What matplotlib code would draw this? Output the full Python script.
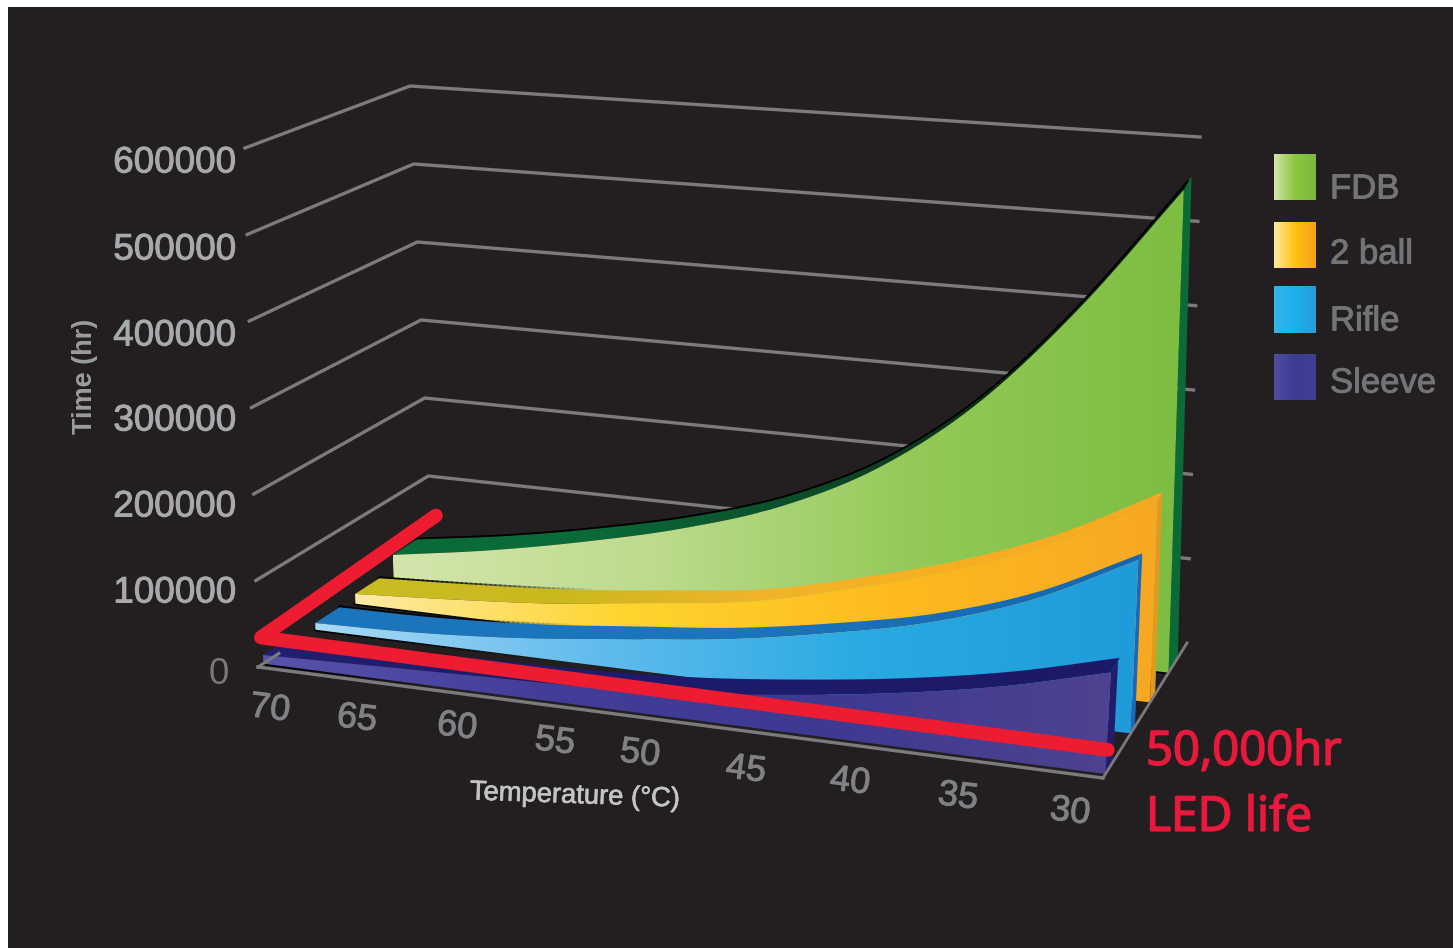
import numpy as np
import matplotlib
matplotlib.use("Agg")
import matplotlib.pyplot as plt
import matplotlib.patheffects as pe
from matplotlib.collections import LineCollection
from matplotlib.colors import LinearSegmentedColormap
from matplotlib.patches import Polygon, Rectangle

# ---- chart values -------------------------------------------------------
temperatures = [70, 65, 60, 55, 50, 45, 40, 35, 30]
fdb_hours = [30000, 50000, 75000, 105000, 145000, 205000, 295000, 420000, 570000]
two_ball_hours = [12000, 20000, 30000, 45000, 62000, 92000, 128000, 175000, 238000]
rifle_hours = [8000, 12000, 21000, 35000, 50000, 72000, 100000, 142000, 203000]
sleeve_hours = [10000, 14000, 18000, 22000, 30000, 44000, 62000, 86000, 118000]
time_ticks = [0, 100000, 200000, 300000, 400000, 500000, 600000]
led_life_hours = 50000
series_names = ["FDB", "2 ball", "Rifle", "Sleeve"]

# ---- layout of the pseudo-3D box (pixel coordinates) --------------------
T_HOT, T_COOL, V_MAX = 70.0, 30.0, 600000.0
BOX = {
    (0, 0, 0): (258, 667), (0, 1, 0): (245, 148),
    (0, 0, 1): (432, 554), (0, 1, 1): (410, 86),
    (1, 0, 0): (1103, 778), (1, 1, 0): (1130, 262),
    (1, 0, 1): (1187, 643), (1, 1, 1): (1200, 137),
}
BAND_HOT = 0.14
BG, GRID = "#231f20", "#7b7b7c"
TICK_GREY, LEGEND_GREY, LED_RED = "#a7a9ac", "#737477", "#ed1c30"


def project(t, v, d):
    """Map temperature, hours and depth (0 front, 1 back) onto the canvas."""
    t, v, d = np.broadcast_arrays(np.asarray(t, float), np.asarray(v, float), np.asarray(d, float))
    u = (T_HOT - t) / (T_HOT - T_COOL)
    w = v / V_MAX
    pts = np.zeros(t.shape + (2,))
    for (a, b, c), xy in BOX.items():
        weight = (u if a else 1 - u) * (w if b else 1 - w) * (d if c else 1 - d)
        pts += weight[..., None] * np.array(xy, float)
    return pts


def smooth(values, n=160):
    """Cubic Hermite sampling along the temperature axis, for a smooth outline."""
    x = np.arange(len(values), dtype=float)
    y = np.array(values, float)
    m = np.gradient(y)
    xs = np.linspace(0, x[-1], n)
    i = np.minimum(xs.astype(int), len(x) - 2)
    s = xs - x[i]
    ys = ((2 * s**3 - 3 * s**2 + 1) * y[i] + (s**3 - 2 * s**2 + s) * m[i]
          + (-2 * s**3 + 3 * s**2) * y[i + 1] + (s**3 - s**2) * m[i + 1])
    ts = T_HOT + (T_COOL - T_HOT) * xs / x[-1]
    return ts, ys


fig = plt.figure(figsize=(14.53, 9.48), dpi=100, facecolor="white")
ax = fig.add_axes([0, 0, 1, 1])
ax.set_xlim(0, 1453)
ax.set_ylim(948, 0)
ax.axis("off")
ax.add_patch(Rectangle((8, 7), 1453, 948, fc=BG, ec="none", zorder=0))


def gradient_fill(poly, colours, z):
    cmap = LinearSegmentedColormap.from_list("g", colours)
    x0, x1 = poly[:, 0].min(), poly[:, 0].max()
    y0, y1 = poly[:, 1].min(), poly[:, 1].max()
    im = ax.imshow(np.linspace(0, 1, 256)[None, :], cmap=cmap, aspect="auto",
                   extent=(x0, x1, y1, y0), zorder=z, interpolation="bilinear")
    im.set_clip_path(Polygon(poly, closed=True, transform=ax.transData))


def fading_line(pts, reach, lw, z):
    """Black shadow along a path, fading out over the first `reach` of its length."""
    segs = np.stack([pts[:-1], pts[1:]], axis=1)
    fade = np.linspace(0, 1, len(segs))
    alpha = np.clip(1 - fade / reach, 0, 1) if reach < 1 else np.ones(len(segs))
    rgba = np.zeros((len(segs), 4))
    rgba[:, 3] = alpha
    ax.add_collection(LineCollection(segs, colors=rgba, linewidths=lw, zorder=z, capstyle="round"))


def ribbon(values, depth, face, top, side, z, reach, band_cool, side_depth):
    ts, vs = smooth(values)
    u = (T_HOT - ts) / (T_HOT - T_COOL)
    back = depth + BAND_HOT + (band_cool - BAND_HOT) * u
    base = project(ts, 0, depth)
    crest = project(ts, vs, depth)
    crest_back = project(ts, vs, back)
    fading_line(crest_back, reach, 2.6, z)
    gradient_fill(np.vstack([crest, crest_back[::-1]]), top, z + 0.1)
    ends = np.array([0.0, vs[-1]])
    side_poly = np.vstack([project(T_COOL, ends, depth),
                           project(T_COOL, ends[::-1], depth + side_depth)])
    ax.add_patch(Polygon(side_poly, closed=True, fc=side, ec="none", zorder=z + 0.1))
    fading_line(base, reach, 2.4, z + 0.15)
    gradient_fill(np.vstack([crest, base[::-1]]), face, z + 0.2)


# ---- grid: front-left tick, back-left corner, back-right tick -----------
for tick in time_ticks[1:]:
    path = np.vstack([project(T_HOT, tick, 0), project(T_HOT, tick, 1), project(T_COOL, tick, 1)])
    ax.plot(*path.T, color=GRID, lw=2.4, zorder=1, solid_joinstyle="round")

# ---- ribbons from back to front -----------------------------------------
ribbon(fdb_hours, 0.78, ["#d3e5ad", "#bcdb8c", "#93c957", "#7cbd42"],
       ["#0a6a38", "#0a6a38", "#0a4f2a", "#0d2c18", "#0f1c12"], "#0b6b37", 2, 1.0, 0.06, 0.11)
ribbon(two_ball_hours, 0.56, ["#fdeaa3", "#ffd52e", "#fdbb1e", "#f7a823"],
       ["#c9bc22", "#cbb81f", "#f0b42a", "#f9ae22", "#f7a823"], "#e09a1e", 3, 0.28, 0.06, 0.06)
ribbon(rifle_hours, 0.33, ["#a8d9f6", "#63bced", "#29aae2", "#1f9bd9"],
       ["#1b75bc", "#1b75bc", "#1566b0"], "#1b68b8", 4, 0.3, 0.05, 0.05)
ribbon(sleeve_hours, 0.03, ["#5852ab", "#423d98", "#3e3a92", "#4e4290"],
       ["#231f70", "#1d1a6b", "#1c1a68"], "#221c6a", 5, 0.2, 0.11, 0.09)

# ---- floor edges --------------------------------------------------------
floor_left = project([T_HOT, T_COOL], 0, 0)
floor_right = project(T_COOL, 0, [0, 1])
floor_stub = project(T_HOT, 0, [0, 0.12])
ax.plot(*floor_left.T, color=GRID, lw=2.4, zorder=6)
ax.plot(*floor_right.T, color=GRID, lw=2.0, zorder=6)
ax.plot(*floor_stub.T, color=GRID, lw=2.2, zorder=6)

# ---- 50,000 hr level ----------------------------------------------------
led_path = np.vstack([project(69.7, led_life_hours, 1.0),
                      project(69.0, led_life_hours, -0.1),
                      project(29.5, led_life_hours, -0.1)])
ax.plot(*led_path.T, color=LED_RED, lw=10, zorder=7,
        solid_capstyle="round", solid_joinstyle="round")

# ---- tick and axis labels -----------------------------------------------
SANS = "Liberation Sans"
heavy = [pe.withStroke(linewidth=0.7, foreground=TICK_GREY)]
time_label_y = [674, 593, 507, 421, 336, 250, 163]
for tick, y in zip(time_ticks, time_label_y):
    text = ax.text(235 if tick else 229, y, str(tick), ha="right", va="center", family=SANS,
                   fontsize=26.5, color=TICK_GREY if tick else "#77787b", zorder=8)
    if tick:
        text.set_path_effects(heavy)

temp_label_xy = [(270, 709), (357, 719), (457, 727), (555, 742), (640, 754),
                 (746, 770), (850, 782), (958, 797), (1070, 812)]
for temp, (x, y) in zip(temperatures, temp_label_xy):
    ax.text(x, y, str(temp), ha="center", va="center", family=SANS, fontsize=26,
            rotation=-7, color="#808184", zorder=8,
            path_effects=[pe.withStroke(linewidth=0.7, foreground="#808184")])

ax.text(85, 376, "Time (hr)", rotation=90, ha="center", va="center", family=SANS,
        fontsize=19.5, fontweight="bold", color="#9a9c9f", zorder=8)
ax.text(575, 796, "Temperature (°C)", rotation=-2, ha="center", va="center", family=SANS,
        fontsize=19.7, color="#c2c3c5", zorder=8,
        path_effects=[pe.withStroke(linewidth=0.5, foreground="#c2c3c5")])
red_heavy = [pe.withStroke(linewidth=1.2, foreground="#e8193c")]
ax.text(1146, 752, "50,000hr", ha="left", va="center", family="Open Sans",
        fontsize=34, color="#e8193c", zorder=8, path_effects=red_heavy)
ax.text(1146, 818, "LED life", ha="left", va="center", family="Open Sans",
        fontsize=34.5, color="#e8193c", zorder=8, path_effects=red_heavy)

# ---- legend -------------------------------------------------------------
swatch_colours = [["#d3e5ad", "#8dc63f", "#7ab840"], ["#fdeaa3", "#ffc20e", "#f7a01b"],
                  ["#36b4ea", "#1cb0ec", "#2a9cd8"], ["#504ea0", "#3a3c95", "#423f90"]]
swatch_y = [(154, 200), (222, 268), (286, 333), (354, 400)]
legend_y = [189, 254, 321, 383]
for name, cols, (y0, y1), ty in zip(series_names, swatch_colours, swatch_y, legend_y):
    box = np.array([(1274, y0), (1316, y0), (1316, y1), (1274, y1)], float)
    gradient_fill(box, cols, 8)
    ax.text(1330, ty, name, ha="left", va="center", family=SANS, fontsize=25,
            color=LEGEND_GREY, zorder=8,
            path_effects=[pe.withStroke(linewidth=0.7, foreground=LEGEND_GREY)])

ax.set_xlim(0, 1453)
ax.set_ylim(948, 0)
fig.savefig("out.png", dpi=100, facecolor=fig.get_facecolor())
